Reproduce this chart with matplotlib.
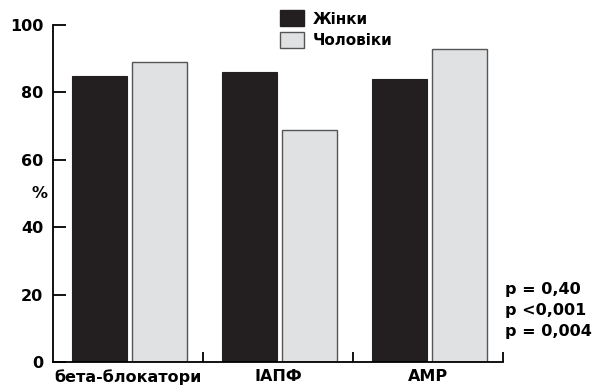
import numpy as np
import matplotlib
matplotlib.use("Agg")
import matplotlib.pyplot as plt
from matplotlib.patches import Patch

plt.rcParams['font.family'] = ['DejaVu Sans']
plt.rcParams['font.weight'] = 'bold'

# data
groups = ["бета-блокатори", "ІАПФ", "AMP"]
women = [85, 86, 84]
men = [89, 69, 93]
pvals = ["p = 0,40", "p <0,001", "p = 0,004"]

black = "#231f20"
grey = "#e0e1e3"

fig = plt.figure(figsize=(6, 3.86), dpi=100)
ax = fig.add_axes([0.0883, 0.062, 0.75, 0.873])

x = np.arange(len(groups))
w = 0.367
ax.bar(x + 0.31, women, w, align="center", color=black, edgecolor=black, lw=0.8, label="Жінки")
ax.bar(x + 0.71, men, w, align="center", color=grey, edgecolor="#555555", lw=1.0, label="Чоловіки")

ax.set_xlim(0, 3)
ax.set_ylim(0, 100)
ax.set_yticks([0, 20, 40, 60, 80, 100])
ax.tick_params(axis="y", direction="in", length=9, width=1.3, labelsize=11.5, pad=7)
for t in ax.get_yticklabels():
    t.set_fontweight("bold")

# group separator ticks on x axis
ax.set_xticks([1, 2, 3])
ax.set_xticklabels([])
ax.tick_params(axis="x", direction="in", length=7, width=1.3)
ax.set_xticks(x + 0.5, minor=True)
ax.set_xticklabels(groups, minor=True, fontsize=11.5, fontweight="bold")
ax.tick_params(axis="x", which="minor", length=0, pad=5)

for s in ["top", "right"]:
    ax.spines[s].set_visible(False)
for s in ["left", "bottom"]:
    ax.spines[s].set_linewidth(1.3)

ax.set_ylabel("%", rotation=0, fontsize=11.5, fontweight="bold", va="center", ha="center")
ax.yaxis.set_label_coords(-0.03, 0.5)

handles = [Patch(facecolor=black, edgecolor=black, label="Жінки"),
           Patch(facecolor=grey, edgecolor="#555555", label="Чоловіки")]
leg = ax.legend(handles=handles, loc="upper left", bbox_to_anchor=(0.49, 1.062),
                frameon=False, fontsize=11, handlelength=1.6, handleheight=1.25,
                handletextpad=0.6, labelspacing=0.35, borderaxespad=0)
for t in leg.get_texts():
    t.set_fontweight("bold")

for i, p in enumerate(pvals):
    ax.text(1.005, 0.215 - i * 0.062, p, transform=ax.transAxes, fontsize=11.5,
            fontweight="bold", va="center", ha="left")

fig.savefig("out.png", dpi=100)
